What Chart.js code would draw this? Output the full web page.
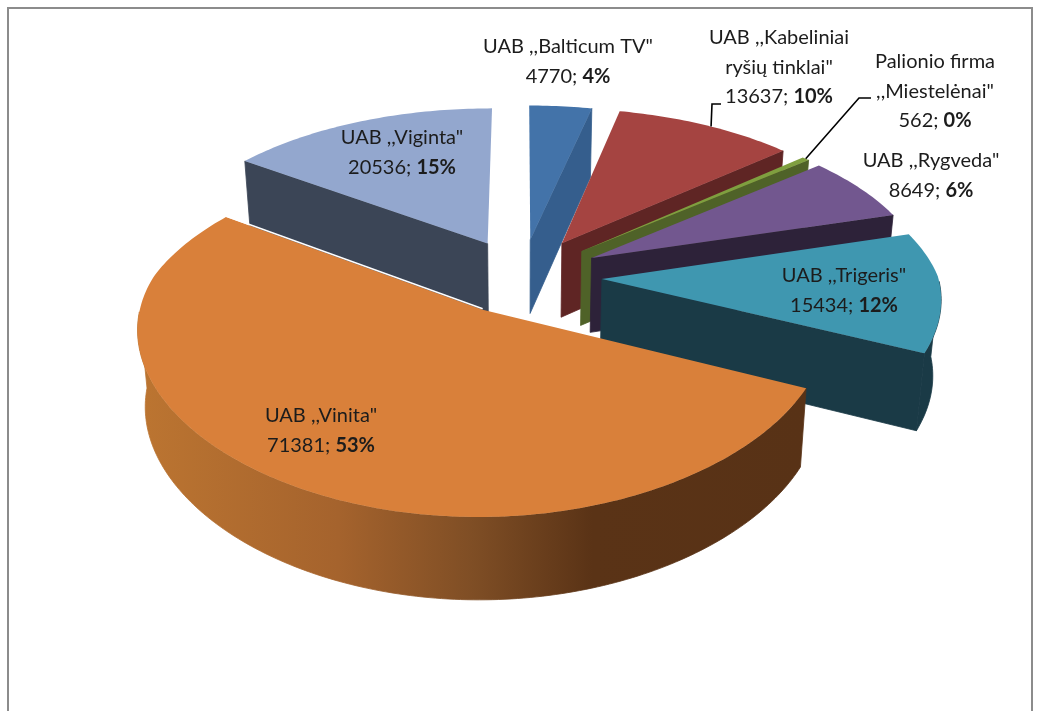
<!DOCTYPE html>
<html>
<head>
<meta charset="utf-8">
<title>Pie</title>
<script src="https://cdn.jsdelivr.net/npm/chart.js@4"></script>
<style>
    html, body { margin: 0; padding: 0; background: #fff; overflow: hidden; }
    #frame { position: absolute; left: 7px; top: 7px; width: 1026px; height: 704px; border: 2px solid #8c8c8c; border-bottom: none; box-sizing: border-box; }
    #pie { position: absolute; left: 0; top: 0; }
</style>
</head>
<body>
<div id="frame"></div>
<canvas id="pie" width="1037" height="711"></canvas>
<script>
// ---------- DATA ----------
const categories = ['UAB ,,Balticum TV"', 'UAB ,,Kabeliniai ryšių tinklai"', 'Palionio firma ,,Miestelėnai"', 'UAB ,,Rygveda"', 'UAB ,,Trigeris"', 'UAB ,,Vinita"', 'UAB ,,Viginta"'];
const values = [4770, 13637, 562, 8649, 15434, 71381, 20536];
const shares = ["4%", "10%", "0%", "6%", "12%", "53%", "15%"];

// ---------- STYLE ----------
const topColors = ["#4373a9", "#a54441", "#7f9f3f", "#72578f", "#3f97b0", "#d9803a", "#93a7ce"];
const faceColors = ["#355e8d", "#5f2524", "#4f6228", "#2d2239", "#1a3a46", "#5a3316", "#3b4556"];
const endFaceColors = ["#355e8d", "#5f2524", "#4f6228", "#2d2239", "#1a3a46", "#5a3316", "#7f95ba"];
const wallStops = [[0, "#bc7531"], [0.3, "#a5632d"], [0.5, "#7f4e25"], [0.68, "#5a3316"], [1, "#583216"]];
const explode = [77, 80, 80, 80, 80, 77, 77];
const drawOrder = [0, 6, 1, 2, 3, 4, 5];

// label layout: wrapped name lines and centre of the first line
const labelLines = [['UAB ,,Balticum TV"'], ['UAB ,,Kabeliniai', 'ryšių tinklai"'], ['Palionio firma', ',,Miestelėnai"'], ['UAB ,,Rygveda"'], ['UAB ,,Trigeris"'], ['UAB ,,Vinita"'], ['UAB ,,Viginta"']];
const labelAnchors = [[568, 47], [779, 38], [935, 62], [931, 161], [844, 276], [321, 416], [402, 138]];
const LINE_HEIGHT = 29.5;
const FONT_SIZE = 20;
const FONT = "Lato";

// projection of the flat pie
const SQUASH = 0.49;
const PERSPECTIVE_BACK = 0.00045;
const PERSPECTIVE_FRONT_X = 0.0003;
const DEPTH = 75;
const TAPER = 0.02;

function project(arc, off, angle, r, z) {
    const mid = (arc.startAngle + arc.endAngle) / 2;
    const u = off * Math.cos(mid) + r * Math.cos(angle);
    const v = off * Math.sin(mid) + r * Math.sin(angle);
    const s = 1 / (1 - PERSPECTIVE_BACK * v);
    const sx = v < 0 ? s : 1 / (1 - PERSPECTIVE_FRONT_X * v);
    return { x: arc.x + u * sx * (1 - TAPER * z), y: arc.y + SQUASH * v * s + DEPTH * z * Math.sqrt(s) };
}

function fillPoly(ctx, pts, color, seal) {
    ctx.beginPath();
    pts.forEach((p, i) => i ? ctx.lineTo(p.x, p.y) : ctx.moveTo(p.x, p.y));
    ctx.closePath();
    ctx.fillStyle = color;
    ctx.fill();
    if (seal) {
        ctx.strokeStyle = color;
        ctx.lineWidth = 0.8;
        ctx.stroke();
    }
}

function drawSlice(ctx, arc, i) {
    const off = explode[i];
    const R = arc.outerRadius;
    const a0 = arc.startAngle, a1 = arc.endAngle;
    const steps = Math.max(2, Math.ceil((a1 - a0) / 0.017));
    const angles = [];
    for (let k = 0; k <= steps; k++) angles.push(a0 + (a1 - a0) * k / steps);

    const face = (angle, color) => fillPoly(ctx, [
        project(arc, off, angle, 0, 0), project(arc, off, angle, R, 0),
        project(arc, off, angle, R, 1), project(arc, off, angle, 0, 1)
    ], color, true);

    // radial faces, only where they look at the viewer
    if (Math.cos(a0) < 0) face(a0, faceColors[i]);
    if (Math.cos(a1) >= 0) face(a1, endFaceColors[i]);

    // outer wall, only the front half
    const front = angles.filter(a => Math.sin(a) > 0);
    if (front.length > 1) {
        const upper = front.map(a => project(arc, off, a, R, 0));
        const lower = front.map(a => project(arc, off, a, R, 1));
        const xs = upper.concat(lower).map(p => p.x);
        let color = faceColors[i];
        if (i === 5) {
            color = ctx.createLinearGradient(Math.min(...xs), 0, Math.max(...xs), 0);
            wallStops.forEach(s => color.addColorStop(s[0], s[1]));
        }
        fillPoly(ctx, upper.concat(lower.reverse()), color, true);
    }

    // top
    const top = [project(arc, off, a0, 0, 0)].concat(angles.map(a => project(arc, off, a, R, 0)));
    fillPoly(ctx, top, topColors[i]);

    // thin white rim where the big slice lies over the one behind it
    if (i === 5) {
        const p = project(arc, off, a1, 0, 0), q = project(arc, off, a1, R, 0);
        ctx.beginPath();
        ctx.moveTo(p.x, p.y - 1);
        ctx.lineTo(q.x, q.y - 1);
        ctx.strokeStyle = "#fff";
        ctx.lineWidth = 1.5;
        ctx.stroke();
    }
}

const leaders = [
    { slice: 1, at: 0.53, path: [[712, 104], [721, 104]] },
    { slice: 2, at: 0.5, path: [[859, 98], [871, 98]] }
];

const pie3d = {
    id: "pie3d",
    beforeDatasetDraw(chart, args) {
        const ctx = chart.ctx;
        const arcs = args.meta.data;
        ctx.save();
        drawOrder.forEach(i => drawSlice(ctx, arcs[i], i));
        ctx.restore();
        return false;
    },
    afterDraw(chart) {
        const ctx = chart.ctx;
        ctx.save();

        // leader lines
        ctx.strokeStyle = "#000";
        ctx.lineWidth = 1.6;
        leaders.forEach(l => {
            const arc = chart.getDatasetMeta(0).data[l.slice];
            const mid = arc.startAngle + (arc.endAngle - arc.startAngle) * l.at;
            const p = project(arc, explode[l.slice], mid, arc.outerRadius, 0);
            ctx.beginPath();
            ctx.moveTo(p.x, p.y);
            l.path.forEach(q => ctx.lineTo(q[0], q[1]));
            ctx.stroke();
        });

        // labels
        ctx.textBaseline = "middle";
        ctx.fillStyle = "#1c1c1c";
        labelLines.forEach((lines, i) => {
            const [cx, y0] = labelAnchors[i];
            ctx.textAlign = "center";
            ctx.font = FONT_SIZE + "px " + FONT;
            lines.forEach((line, k) => ctx.fillText(line, cx, y0 + k * LINE_HEIGHT));

            const y = y0 + lines.length * LINE_HEIGHT;
            const plain = values[i] + "; ";
            const plainW = ctx.measureText(plain).width;
            ctx.font = "bold " + FONT_SIZE + "px " + FONT;
            const boldW = ctx.measureText(shares[i]).width;
            ctx.textAlign = "left";
            ctx.fillText(shares[i], cx - (plainW + boldW) / 2 + plainW, y);
            ctx.font = FONT_SIZE + "px " + FONT;
            ctx.fillText(plain, cx - (plainW + boldW) / 2, y);
        });
        ctx.restore();
    }
};

new Chart(document.getElementById("pie"), {
    type: "pie",
    data: {
        labels: categories,
        datasets: [{
            data: values,
            backgroundColor: topColors,
            offset: explode,
            borderWidth: 0
        }]
    },
    options: {
        responsive: false,
        animation: false,
        radius: 336,
        rotation: 0,
        layout: { padding: { left: 7, bottom: 159 } },
        plugins: { legend: { display: false }, tooltip: { enabled: false } }
    },
    plugins: [pie3d]
});
</script>
</body>
</html>
